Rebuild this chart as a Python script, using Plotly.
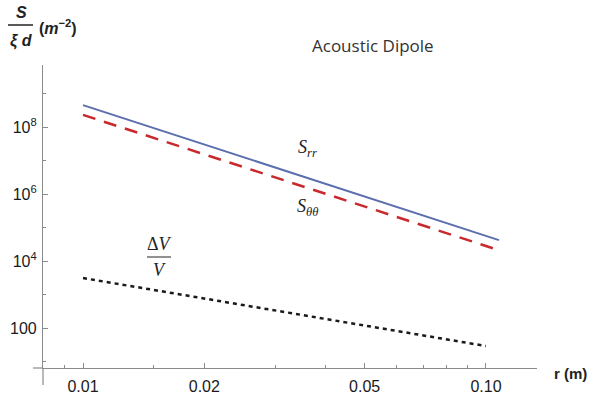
import plotly.graph_objects as go

# ---- data ----
r_stress = [0.01, 0.1077]
S_rr = [4.5e8, 4.2e4]
S_tt = [2.3e8, 2.1e4]
r_vol = [0.01, 0.1]
dV_V = [3100, 29]

x_tickvals = [0.01, 0.02, 0.05, 0.10]
x_ticktext = ["0.01", "0.02", "0.05", "0.10"]
x_minor = [0.009, 0.015, 0.03, 0.04, 0.06, 0.07, 0.08, 0.09]
y_tickvals = [100, 1e4, 1e6, 1e8]
y_ticktext = ["100", "10<sup>4</sup>", "10<sup>6</sup>", "10<sup>8</sup>"]
y_minor = [10, 1e3, 1e5, 1e7, 1e9]

W, H = 597, 397
L, R, T, B = 43, 60, 65, 29
pw, ph = W - L - R, H - T - B

fig = go.Figure()
fig.add_trace(go.Scatter(x=r_stress, y=S_rr, mode="lines",
                         line=dict(color="#5b6fae", width=2), showlegend=False))
fig.add_trace(go.Scatter(x=r_stress, y=S_tt, mode="lines",
                         line=dict(color="#c9292c", width=2.5, dash="13px,9px"), showlegend=False))
fig.add_trace(go.Scatter(x=r_vol, y=dV_V, mode="lines",
                         line=dict(color="#1a1a1a", width=2.5, dash="4px,4px"), showlegend=False))

axcol = "#8a8a8a"
tickfont = dict(family="Arial, Liberation Sans, sans-serif", size=16, color="#1a1a1a")
fig.update_xaxes(type="log", range=[-2.0993, -0.8734], showgrid=False, zeroline=False,
                 automargin=False,
                 showline=True, linecolor=axcol, linewidth=1.2,
                 tickmode="array", tickvals=x_tickvals, ticktext=x_ticktext,
                 ticks="inside", ticklen=5, tickcolor=axcol, tickwidth=1,
                 tickfont=tickfont, ticklabelstandoff=4,
                 minor=dict(tickmode="array", tickvals=x_minor, ticks="inside",
                            ticklen=3, tickcolor=axcol, showgrid=False))
fig.update_yaxes(type="log", range=[0.806, 9.851], showgrid=False, zeroline=False,
                 automargin=False,
                 showline=True, linecolor=axcol, linewidth=1.2,
                 tickmode="array", tickvals=y_tickvals, ticktext=y_ticktext,
                 ticks="inside", ticklen=5, tickcolor=axcol, tickwidth=1,
                 tickfont=tickfont, ticklabelstandoff=2,
                 minor=dict(tickmode="array", tickvals=y_minor, ticks="inside",
                            ticklen=3, tickcolor=axcol, showgrid=False))

def px(x):
    return (x - L) / pw
def py(y):
    return (H - B - y) / ph

shapes = [
    dict(type="line", xref="paper", yref="paper", x0=px(33), x1=px(43), y0=0, y1=0,
         line=dict(color=axcol, width=1.2)),
    dict(type="line", xref="paper", yref="paper", x0=0, x1=0, y0=py(385), y1=0,
         line=dict(color=axcol, width=1.2)),
    dict(type="line", xref="paper", yref="paper", x0=px(8), x1=px(33), y0=py(25), y1=py(25),
         line=dict(color="#222", width=1.5)),
    dict(type="line", xref="paper", yref="paper", x0=px(147), x1=px(171), y0=py(257), y1=py(257),
         line=dict(color="#222", width=1)),
]

labfont = dict(family="Arial, Liberation Sans, sans-serif", size=16, color="#222")
serif = dict(family="Liberation Serif", size=18, color="#222")
ann = []
def A(text, x, y, font, xanchor="center"):
    ann.append(dict(text=text, xref="paper", yref="paper", x=px(x), y=py(y),
                    xanchor=xanchor, yanchor="middle", showarrow=False, font=font))

A("<b><i>S</i></b>", 21, 12, labfont)
A("<b><i>ξ d</i></b>", 21, 41, labfont)
A("<b>(<i>m</i><sup>−2</sup>)</b>", 37, 27, labfont, xanchor="left")
A("Acoustic Dipole", 373, 45, dict(family="Open Sans", size=17, color="#333"))
A("<b>r (m)</b>", 570, 373, dict(family="Arial, Liberation Sans, sans-serif", size=15, color="#222"))
A("<i>S</i><sub><i>rr</i></sub>", 307, 148, serif)
A("<i>S</i><sub><i>θθ</i></sub>", 307, 207, serif)
A("Δ<i>V</i>", 159, 244, dict(family="Liberation Serif", size=18, color="#222"))
A("<i>V</i>", 159, 270, dict(family="Liberation Serif", size=18, color="#222"))

fig.update_layout(width=W, height=H, margin=dict(l=L, r=R, t=T, b=B),
                  plot_bgcolor="white", paper_bgcolor="white",
                  shapes=shapes, annotations=ann)
fig.write_html("out.html")
